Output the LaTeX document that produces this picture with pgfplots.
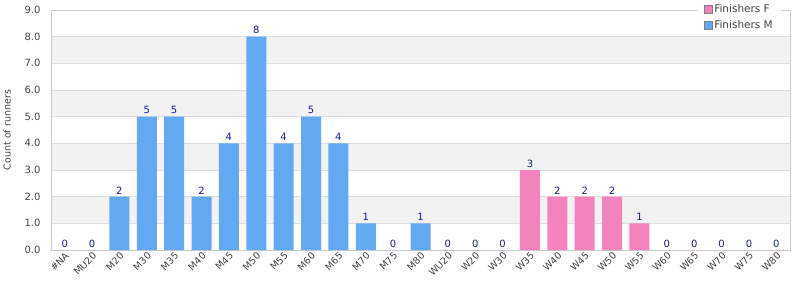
\documentclass[border=0pt]{standalone}
\usepackage{pgfplots}
\pgfplotsset{compat=1.18}
\usepackage{fontspec}
\setmainfont{DejaVu Sans}
\definecolor{barM}{HTML}{62A9F2}
\definecolor{barF}{HTML}{F283BC}
\definecolor{lbl}{HTML}{1C1C8C}
\definecolor{band}{HTML}{F2F2F2}
\definecolor{gridc}{HTML}{DDDDDD}
\definecolor{frame}{HTML}{CCCCCC}
\definecolor{tickc}{HTML}{444444}
\begin{document}
\begin{tikzpicture}
\begin{axis}[
  set layers,
  scale only axis,
  width=739pt, height=240pt,
  xmin=-0.5, xmax=26.5,
  ymin=0, ymax=9,
  ytick={0,1,...,9},
  xtick={0,1,...,26},
  xticklabels={\#NA,MU20,M20,M30,M35,M40,M45,M50,M55,M60,M65,M70,M75,M80,WU20,W20,W30,W35,W40,W45,W50,W55,W60,W65,W70,W75,W80},
  x tick label style={rotate=45, anchor=north east, font=\fontsize{9.5}{11}\selectfont, text=tickc, inner sep=1pt},
  y tick label style={font=\fontsize{10}{12}\selectfont, text=tickc, /pgf/number format/fixed, /pgf/number format/fixed zerofill, /pgf/number format/precision=1},
  yticklabel shift=7pt,
  /pgf/number format/assume math mode=true,
  major tick length=0pt,
  ymajorgrids, grid style={draw=gridc, line width=0.6pt},
  axis line style={draw=frame, line width=0.8pt},
  ylabel={Count of runners},
  ylabel style={font=\fontsize{9.5}{11}\selectfont, text=tickc},
  ylabel shift=7pt,
  ybar, bar width=20pt, bar shift=0pt,
  nodes near coords,
  every node near coord/.append style={font=\fontsize{10}{12}\selectfont, text=lbl, yshift=-1pt},
  legend style={at={(1,1)}, anchor=north east, yshift=10pt, xshift=-9pt, draw=none, fill=white, font=\fontsize{10.5}{12}\selectfont, text=tickc, row sep=3pt, inner xsep=6pt, inner ysep=2pt},
  legend cell align=left,
  legend image code/.code={\draw[#1, draw=gray, line width=0.6pt] (0pt,-4pt) rectangle (8pt,4pt);},
]
\begin{pgfonlayer}{axis background}
\fill[band] (axis cs:-0.5,1) rectangle (axis cs:26.5,2);
\fill[band] (axis cs:-0.5,3) rectangle (axis cs:26.5,4);
\fill[band] (axis cs:-0.5,5) rectangle (axis cs:26.5,6);
\fill[band] (axis cs:-0.5,7) rectangle (axis cs:26.5,8);
\end{pgfonlayer}
\addplot[fill=barF, draw=none] coordinates {(17,3) (18,2) (19,2) (20,2) (21,1) (22,0) (23,0) (24,0) (25,0) (26,0)};
\addlegendentry{Finishers F}
\addplot[fill=barM, draw=none] coordinates {(0,0) (1,0) (2,2) (3,5) (4,5) (5,2) (6,4) (7,8) (8,4) (9,5) (10,4) (11,1) (12,0) (13,1) (14,0) (15,0) (16,0)};
\addlegendentry{Finishers M}
\coordinate (sw) at (rel axis cs:0,0);
\coordinate (ne) at (rel axis cs:1,1);
\end{axis}
\pgfresetboundingbox
\useasboundingbox ([shift={(-51pt,-50pt)}]sw) rectangle ([shift={(10pt,10pt)}]ne);
\end{tikzpicture}
\end{document}
